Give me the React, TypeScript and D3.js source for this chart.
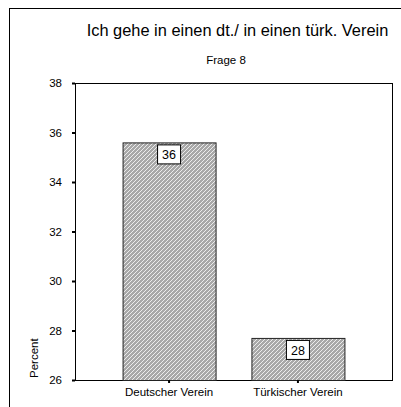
import { useEffect, useRef } from "react";
import * as d3 from "d3";

const categories = ["Deutscher Verein", "Türkischer Verein"];
const percents = [35.6, 27.7];
const yTicks = [26, 28, 30, 32, 34, 36, 38];

export default function App() {
  const svgRef = useRef<SVGSVGElement>(null);

  useEffect(() => {
    const svg = d3.select(svgRef.current);
    svg.selectAll("*").remove();

    let left = 75;
    let right = 392;
    let top = 83;
    let bottom = 380;
    let font = "Liberation Sans, Arial, sans-serif";

    let y = d3.scaleLinear().domain([26, 38]).range([bottom, top]);
    let x = d3.scalePoint().domain(categories).range([left, right]).padding(0.73);
    let barW = 93;

    // hatch pattern
    let pat = svg
      .append("defs")
      .append("pattern")
      .attr("id", "hatch")
      .attr("patternUnits", "userSpaceOnUse")
      .attr("width", 4)
      .attr("height", 4);
    pat.append("rect").attr("width", 4).attr("height", 4).attr("fill", "#a8a8a8");
    pat
      .append("path")
      .attr("d", "M-1,1 l2,-2 M0,4 l4,-4 M3,5 l2,-2")
      .attr("stroke", "#f4f4f4")
      .attr("stroke-width", 0.9);

    // outer frame
    svg.append("line").attr("x1", 9).attr("x2", 401).attr("y1", 8.5).attr("y2", 8.5).attr("stroke", "#000");
    svg.append("line").attr("x1", 9.5).attr("x2", 9.5).attr("y1", 8).attr("y2", 407).attr("stroke", "#000");

    svg
      .append("text")
      .attr("x", 237.5)
      .attr("y", 36)
      .attr("text-anchor", "middle")
      .attr("font-family", font)
      .attr("font-size", "16.4px")
      .text("Ich gehe in einen dt./ in einen türk. Verein");

    svg
      .append("text")
      .attr("x", 226)
      .attr("y", 64)
      .attr("text-anchor", "middle")
      .attr("font-family", font)
      .attr("font-size", "11.5px")
      .text("Frage 8");

    // plot box
    svg
      .append("rect")
      .attr("x", left + 0.5)
      .attr("y", top + 0.5)
      .attr("width", right - left)
      .attr("height", bottom - top)
      .attr("fill", "none")
      .attr("stroke", "#000");

    // bars
    svg
      .selectAll(".bar")
      .data(percents)
      .enter()
      .append("rect")
      .attr("x", (d, i) => (x(categories[i]) as number) - barW / 2 + 0.5)
      .attr("y", (d) => y(d) + 0.5)
      .attr("width", barW)
      .attr("height", (d) => bottom - y(d))
      .attr("fill", "url(#hatch)")
      .attr("stroke", "#222");

    // value labels
    let fmt = d3.format(".0f");
    let lab = svg
      .selectAll(".lab")
      .data(percents)
      .enter()
      .append("g")
      .attr("transform", (d, i) => `translate(${x(categories[i])},${y(d) + 2})`);
    lab
      .append("rect")
      .attr("x", -11.5)
      .attr("y", 0.5)
      .attr("width", 23)
      .attr("height", 19)
      .attr("fill", "#fff")
      .attr("stroke", "#000");
    lab
      .append("text")
      .attr("y", 15)
      .attr("text-anchor", "middle")
      .attr("font-family", font)
      .attr("font-size", "12.5px")
      .text((d) => fmt(d));

    // y axis
    let yAxis = svg.append("g");
    yTicks.forEach((t) => {
      yAxis
        .append("line")
        .attr("x1", left - 3)
        .attr("x2", left)
        .attr("y1", y(t) + 0.5)
        .attr("y2", y(t) + 0.5)
        .attr("stroke", "#000")
        .attr("stroke-width", 2);
      yAxis
        .append("text")
        .attr("x", left - 13)
        .attr("y", y(t) + 4)
        .attr("text-anchor", "end")
        .attr("font-family", font)
        .attr("font-size", "11.5px")
        .text(t);
    });

    // x axis
    categories.forEach((c) => {
      let cx = x(c) as number;
      svg
        .append("line")
        .attr("x1", cx)
        .attr("x2", cx)
        .attr("y1", bottom)
        .attr("y2", bottom + 3)
        .attr("stroke", "#000")
        .attr("stroke-width", 2);
      svg
        .append("text")
        .attr("x", cx)
        .attr("y", 396)
        .attr("text-anchor", "middle")
        .attr("font-family", font)
        .attr("font-size", "11.5px")
        .text(c);
    });

    svg
      .append("text")
      .attr("transform", "translate(38,378) rotate(-90)")
      .attr("text-anchor", "start")
      .attr("font-family", font)
      .attr("font-size", "11.5px")
      .text("Percent");
  }, []);

  return (
    <svg
      ref={svgRef}
      width={401}
      height={407}
      style={{ position: "absolute", left: 0, top: 0, background: "#fff" }}
    ></svg>
  );
}
